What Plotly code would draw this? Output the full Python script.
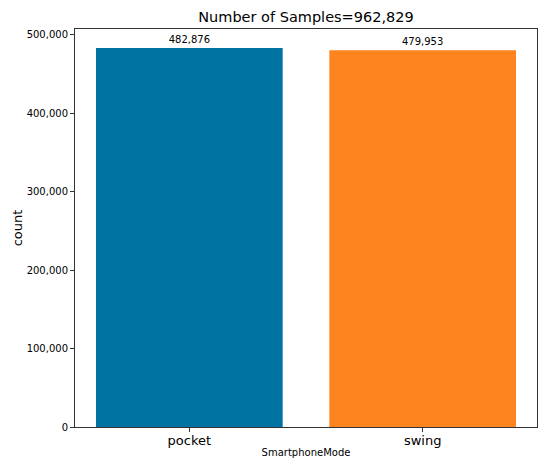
import plotly.graph_objects as go

modes = ["pocket", "swing"]
counts = [482876, 479953]
bar_colors = ["#0173A2", "#FD841F"]

total = sum(counts)

fig = go.Figure(go.Bar(
    x=[0, 1], y=counts,
    width=0.8,
    marker=dict(color=bar_colors, line=dict(width=0)),
    text=[f"{c:,}" for c in counts],
    textposition="outside",
    textfont=dict(size=10, color="#000000"),
    cliponaxis=False,
))

fig.update_layout(
    width=550, height=467,
    margin=dict(l=75, r=13, t=29, b=40, autoexpand=False),
    paper_bgcolor="white", plot_bgcolor="white",
    font=dict(family="DejaVu Sans", color="#000000"),
    showlegend=False,
    title=dict(text=f"Number of Samples={total:,}", xref="paper", x=0.5,
               xanchor="center", y=0.963, yanchor="middle", font=dict(size=14.5)),
)

fig.update_xaxes(
    range=[-0.49, 1.49],
    tickvals=[0, 1], ticktext=modes,
    tickfont=dict(size=13),
    ticks="outside", ticklen=4, tickcolor="#333333", ticklabelstandoff=-3,
    showline=True, linecolor="#333333", linewidth=1, mirror=True,
    showgrid=False, zeroline=False, automargin=False,
    title=dict(text="SmartphoneMode", font=dict(size=10), standoff=2),
)
fig.update_yaxes(
    range=[0, max(counts) * 1.05],
    tickvals=[0, 100000, 200000, 300000, 400000, 500000],
    tickformat=",d",
    tickfont=dict(size=10),
    ticks="outside", ticklen=4, tickcolor="#333333",
    showline=True, linecolor="#333333", linewidth=1, mirror=True,
    showgrid=False, zeroline=False, automargin=False,
    title=dict(text="count", font=dict(size=13), standoff=1),
)

# page body has a default 8px margin; drop it so the figure sits at 0,0
fig.write_html("out.html", config={"displayModeBar": False},
               post_script="document.body.style.margin='0';")
